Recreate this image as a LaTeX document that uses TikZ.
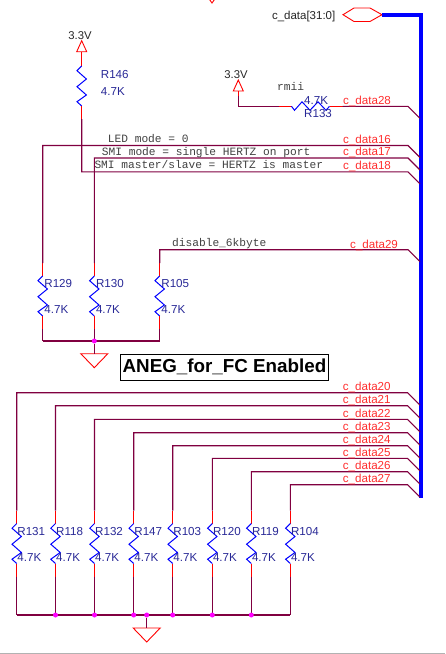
\documentclass[tikz,border=0pt]{standalone}
\usepackage{fontspec}
\setmainfont{Liberation Sans}
\newfontfamily\wirefont{Liberation Mono}
\usetikzlibrary{calc}

\definecolor{wirecol}{RGB}{128,0,64}
\definecolor{pincol}{RGB}{255,0,0}
\definecolor{refcol}{RGB}{40,40,150}
\definecolor{netcol}{RGB}{255,45,45}
\definecolor{dotcol}{RGB}{255,0,255}
\definecolor{buscol}{RGB}{0,0,255}

\tikzset{
  wire/.style={draw=wirecol,line width=1.1pt},
  stub/.style={draw=pincol,line width=1.1pt},
  zig/.style={draw=buscol,line width=1pt},
  bus/.style={draw=buscol,line width=4pt},
  symb/.style={draw=pincol,line width=.9pt},
  dot/.style={circle,fill=dotcol,inner sep=0pt,minimum size=5pt},
  netlabel/.style={anchor=base west,inner sep=0pt,text=netcol,font=\fontsize{11.6}{12}\selectfont},
  reflabel/.style={anchor=base west,inner sep=0pt,text=refcol,font=\fontsize{11.6}{12}\selectfont},
  powerlabel/.style={anchor=base,inner sep=0pt,text=black!85,font=\fontsize{11.3}{12}\selectfont},
  notelabel/.style={anchor=base west,inner sep=0pt,text=black!75,font=\wirefont\fontsize{11.2}{12}\selectfont},
  vres/.pic={
    \draw[stub] (0,-13) coordinate (-top) -- (0,0);
    \draw[zig] (0,0) -- (-4.7,4.7) -- (4.7,13) -- (-4.7,20.7) -- (4.7,29) -- (-4.7,35.7) -- (0,40);
    \draw[stub] (0,40) -- (0,53) coordinate (-bot);
  },
  hres/.pic={
    \draw[stub] (-13,0) coordinate (-left) -- (0,0);
    \draw[zig] (0,0) -- (3,4) -- (10.5,-4.5) -- (18.5,4) -- (26.5,-4.5) -- (34.5,4) -- (38,0);
    \draw[stub] (38,0) -- (51,0) coordinate (-right);
  },
  power/.pic={
    \draw[symb] (0,0) coordinate (-apex) -- (5,11) coordinate (-br) -- (-5,11) -- cycle;
    \coordinate (-pin) at (0,11);
  },
  gnd/.pic={
    \draw[symb] (-13.5,0) -- (13.5,0) -- (0,14) -- cycle;
    \coordinate (-pin) at (0,0);
  },
}

\begin{document}
\begin{tikzpicture}[x=1pt,y=-1pt]
\useasboundingbox (0,0) rectangle (445,654);

% clipped symbol on the top edge
\begin{scope}
\clip (0,0) rectangle (445,654);
\draw[symb] (207,-4) -- (212,3) -- (217,-4);
\draw[black!30,line width=1pt] (0,653.5) -- (445,653.5);
\end{scope}

% Bus with its port
\draw[symb] (343,14.7) coordinate (portL) -- (354,8) -- (370,8) -- (382,14.7) coordinate (portR) -- (370,21.5) -- (354,21.5) -- cycle;
\coordinate (busTop) at (420.7,14.7);
\coordinate (busEnd) at (420.7,498);
\draw[bus] (portR) -- (busTop) -- (busEnd);
\node[anchor=base east,inner sep=0pt,text=black!85,font=\fontsize{11.5}{12}\selectfont] (portname) at (335.5,19) {c\_data[31:0]};

% R146 pull up
\pic (P146) at (81.7,40.7) {power};
\node[powerlabel] (V146) at (80,39) {3.3V};
\pic (R146) at (81.7,66) {vres};
\draw[stub] (P146-pin) -- (R146-top);
\node[reflabel] (R146ref) at (100.7,78) {R146};
\node[reflabel] (R146val) at (100.7,95) {4.7K};

% R133 pull up
\pic (P133) at (238.3,80) {power};
\node[powerlabel] (V133) at (236,78) {3.3V};
\pic (R133) at (291.5,106.3) {hres};
\coordinate (R133corner) at (238.3,106.3);
\draw[stub] (P133-pin) -- (238.3,96);
\draw[wire] (238.3,96) -- (R133corner) -- (R133-left);
\node[notelabel] (rmii) at (277,90.5) {rmii};
\node[reflabel] (R133val) at (304,104) {4.7K};
\node[reflabel] (R133ref) at (304,117) {R133};
\coordinate (t28) at (408,106.3);
\coordinate (b28) at (420,118.3);
\draw[wire] (R133-right) -- (t28) -- (b28);
\node[netlabel] (n28) at (343,104) {c\_data28};

% Strap resistors to ground
\foreach \rname/\x in {R129/42.7,R130/94.3,R105/159.7}{
  \pic (\rname) at (\x,276) {vres};
  \node[reflabel] (\rname ref) at (\x+1.5,287.5) {\rname};
  \node[reflabel] (\rname val) at (\x+1.5,313.5) {4.7K};
  \coordinate (\rname low) at (\x,341);
  \draw[wire] (\rname-bot) -- (\rname low);
}
\draw[wire] (R129low) -- (R105low);
\node[dot] (jtop) at (94.3,341) {};
\pic (G1) at (94.3,353.7) {gnd};
\draw[wire] (jtop) -- (G1-pin);

% Strap nets
\foreach \net/\y/\lx in {16/145.5/R129-top,17/158/R130-top,18/171.8/R146-bot}{
  \coordinate (t\net) at (408,\y);
  \coordinate (b\net) at (420,\y+12);
  \draw[wire] (\lx) -- (\lx |- t\net) -- (t\net) -- (b\net);
  \node[netlabel] (n\net) at (343,\y-2.5) {c\_data\net};
}
\coordinate (t29) at (408,249.7);
\coordinate (b29) at (420,261.7);
\draw[wire] (R105-top) -- (R105-top |- t29) -- (t29) -- (b29);
\node[netlabel] (n29) at (350,248) {c\_data29};

\node[notelabel] (ledmode) at (107.7,142.5) {LED mode = 0};
\node[notelabel] (smimode) at (101.7,155.5) {SMI mode = single HERTZ on port};
\node[notelabel] (smimaster) at (94.3,168.5) {SMI master/slave = HERTZ is master};
\node[notelabel] (disable) at (172,246.5) {disable\_6kbyte};

\node[draw=black,line width=1pt,fill=white,minimum width=207.5pt,minimum height=26pt,inner sep=0pt,font=\bfseries\fontsize{18.8}{20}\selectfont] (aneg) at (224.5,367) {ANEG\_for\_FC Enabled};

% Lower resistor row
\foreach \rname/\x/\net/\y in {R131/16.7/20/392.7,R118/55.5/21/405.7,R132/94.5/22/419.3,R147/133.7/23/432.7,R103/172.7/24/445.7,R120/212.3/25/458.3,R119/251.3/26/471.7,R104/290.3/27/484.7}{
  \pic (\rname) at (\x,523.5) {vres};
  \node[reflabel] (\rname ref) at (\x+.5,535) {\rname};
  \node[reflabel] (\rname val) at (\x+.5,561) {4.7K};
  \coordinate (\rname low) at (\x,615);
  \draw[wire] (\rname-bot) -- (\rname low);
  \coordinate (t\net) at (407.5,\y);
  \coordinate (b\net) at (420,\y+12.5);
  \draw[wire] (\rname-top) -- (\rname-top |- t\net) -- (t\net) -- (b\net);
  \node[netlabel] (n\net) at (342.7,\y-2) {c\_data\net};
}
\draw[wire] (R131low) -- (R104low);
\foreach \jname/\x in {j1/55.5,j2/94.5,j3/133.7,j4/146.7,j5/172.7,j6/212.3,j7/251.3}{
  \node[dot] (\jname) at (\x,615) {};
}
\pic (G2) at (146.7,628) {gnd};
\draw[wire] (j4) -- (G2-pin);

\end{tikzpicture}
\end{document}
